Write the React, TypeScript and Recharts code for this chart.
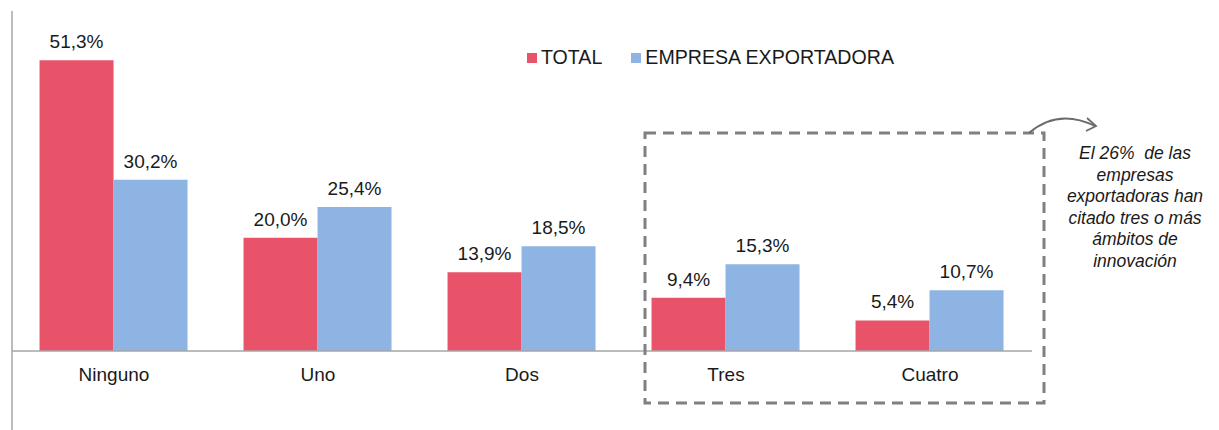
import React from "react";
import { BarChart, Bar, XAxis, YAxis, LabelList, Legend } from "recharts";

const categories = ["Ninguno", "Uno", "Dos", "Tres", "Cuatro"];
const totalValues = [51.3, 20.0, 13.9, 9.4, 5.4];
const exportValues = [30.2, 25.4, 18.5, 15.3, 10.7];
const seriesNames = ["TOTAL", "EMPRESA EXPORTADORA"];
const annotationLines = [
  "El 26%  de las",
  "empresas",
  "exportadoras han",
  "citado tres o más",
  "ámbitos de",
  "innovación",
];

const RED = "#E8536A";
const BLUE = "#8EB4E3";
const FONT = "'Liberation Sans', Arial, sans-serif";

const data = categories.map((c, i) => ({
  name: c,
  total: totalValues[i],
  exp: exportValues[i],
}));

const fmt = (v: number) => v.toFixed(1).replace(".", ",") + "%";

const CatTick = (props: any) => {
  const { x, y, payload } = props;
  return (
    <text x={x} y={y} dy={22} textAnchor="middle" fontSize={19} fill="#1a1a1a" fontFamily={FONT}>
      {payload.value}
    </text>
  );
};

const LegendContent = () => (
  <div style={{ display: "flex", alignItems: "center", fontFamily: FONT, fontSize: 19.6, color: "#1a1a1a", whiteSpace: "nowrap" }}>
    <span style={{ width: 10, height: 10, background: RED, display: "inline-block", marginRight: 4 }} />
    <span style={{ marginRight: 29 }}>{seriesNames[0]}</span>
    <span style={{ width: 10, height: 10, background: BLUE, display: "inline-block", marginRight: 4 }} />
    <span>{seriesNames[1]}</span>
  </div>
);

export default function App() {
  return (
    <div style={{ position: "relative", width: 1219, height: 430 }}>
      <style>{`body{margin:0;}`}</style>
      <BarChart
        width={1219}
        height={430}
        data={data}
        margin={{ top: 11, right: 187, left: 12, bottom: 0 }}
        barCategoryGap="13.5%"
        barGap={0}
      >
        <XAxis
          dataKey="name"
          height={79}
          tickLine={false}
          axisLine={{ stroke: "#a6a6a6", strokeWidth: 1.5 }}
          tick={<CatTick />}
          interval={0}
        />
        <YAxis width={0} domain={[0, 60]} hide />
        <Legend
          verticalAlign="middle"
          align="center"
          content={<LegendContent />}
          wrapperStyle={{ position: "absolute", left: 527, top: 46, width: "auto" }}
        />
        <Bar dataKey="total" name={seriesNames[0]} fill={RED} isAnimationActive={false}>
          <LabelList
            dataKey="total"
            position="top"
            offset={12}
            formatter={(v: any) => fmt(Number(v))}
            style={{ fontSize: 19, fill: "#1a1a1a", fontFamily: FONT }}
          />
        </Bar>
        <Bar dataKey="exp" name={seriesNames[1]} fill={BLUE} isAnimationActive={false}>
          <LabelList
            dataKey="exp"
            position="top"
            offset={12}
            formatter={(v: any) => fmt(Number(v))}
            style={{ fontSize: 19, fill: "#1a1a1a", fontFamily: FONT }}
          />
        </Bar>
      </BarChart>
      <svg
        width={1219}
        height={430}
        style={{ position: "absolute", left: 0, top: 0, pointerEvents: "none" }}
      >
        <line x1={12} y1={11} x2={12} y2={430} stroke="#a6a6a6" strokeWidth={1.5} />
        <rect
          x={645}
          y={133}
          width={399}
          height={270}
          fill="none"
          stroke="#808080"
          strokeWidth={3}
          strokeDasharray="11 7"
        />
        <path
          d="M 1029 133 Q 1058 108 1095 126"
          fill="none"
          stroke="#6b6b6b"
          strokeWidth={1.8}
        />
        <path
          d="M 1087 118 L 1096 126 L 1086 131"
          fill="none"
          stroke="#6b6b6b"
          strokeWidth={1.8}
        />
        {annotationLines.map((t, i) => (
          <text
            key={i}
            x={1135}
            y={159 + i * 21.5}
            textAnchor="middle"
            fontSize={17.5}
            fontStyle="italic"
            fill="#1a1a1a"
            fontFamily={FONT}
            style={{ whiteSpace: "pre" }}
          >
            {t}
          </text>
        ))}
      </svg>
    </div>
  );
}
